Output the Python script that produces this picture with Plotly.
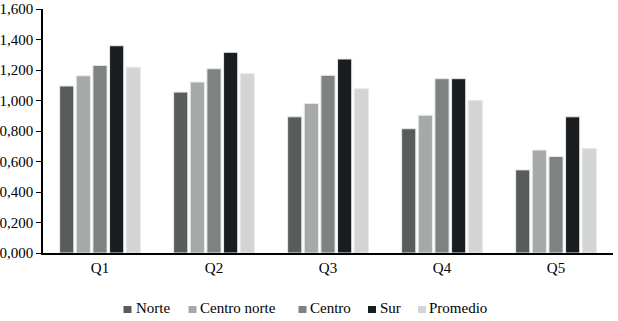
import plotly.graph_objects as go

categories = ["Q1", "Q2", "Q3", "Q4", "Q5"]
norte = [1.095, 1.055, 0.893, 0.815, 0.545]
centro_norte = [1.162, 1.121, 0.980, 0.903, 0.675]
centro = [1.230, 1.208, 1.165, 1.143, 0.633]
sur = [1.359, 1.316, 1.272, 1.143, 0.893]
promedio = [1.218, 1.176, 1.077, 1.001, 0.686]

series_names = ["Norte", "Centro norte", "Centro", "Sur", "Promedio"]
series_values = [norte, centro_norte, centro, sur, promedio]
series_colors = ["#595c5c", "#a6a9a9", "#7f8282", "#1a1d1f", "#d3d5d5"]

# legend layout (pixel positions in the 618x321 canvas)
L, R, T, B = 43, 5, 9, 68
W, H = 618, 321
PW, PH = W - L - R, H - T - B
legend_square_left = [123.5, 188.5, 298.5, 368, 418]
legend_text_left = [134.5, 199, 308.5, 378.5, 427.5]

def px_x(px):
    return (px - L) / PW

def px_y(py):
    return (H - B - py) / PH

font = dict(family="Liberation Serif", size=15, color="#000000")

fig = go.Figure()
for name, vals, col in zip(series_names, series_values, series_colors):
    fig.add_trace(go.Bar(
        x=categories, y=vals, name=name, showlegend=False,
        marker=dict(color=col, line=dict(color="#e8e8e8", width=1)),
    ))

shapes = []
annotations = []
for name, col, sx, tx in zip(series_names, series_colors, legend_square_left, legend_text_left):
    shapes.append(dict(type="rect", xref="paper", yref="paper",
                       x0=px_x(sx), x1=px_x(sx + 8), y0=px_y(313), y1=px_y(306),
                       fillcolor=col, line=dict(width=0)))
    annotations.append(dict(text=name, xref="paper", yref="paper",
                            x=px_x(tx - 1), y=px_y(308), xanchor="left", yanchor="middle",
                            showarrow=False, font=font))

fig.update_layout(
    width=W, height=H,
    margin=dict(l=L, r=R, t=T, b=B, autoexpand=False),
    paper_bgcolor="white", plot_bgcolor="white",
    barmode="group", bargap=0.27, bargroupgap=0.15,
    separators=",.",
    font=font,
    showlegend=False,
    shapes=shapes,
    annotations=annotations,
    xaxis=dict(showline=True, linecolor="#000000", linewidth=1.5, ticks="",
               showgrid=False, tickfont=font, automargin=False),
    yaxis=dict(range=[0, 1.6], dtick=0.2, tickformat=".3f", showline=True,
               linecolor="#000000", linewidth=1.5, ticks="outside", ticklen=5,
               tickcolor="#000000", showgrid=False, zeroline=False, tickfont=font,
               automargin=False),
)

fig.write_html("out.html", config={"displayModeBar": False},
               post_script="document.body.style.margin='0';document.body.style.overflow='hidden';")
